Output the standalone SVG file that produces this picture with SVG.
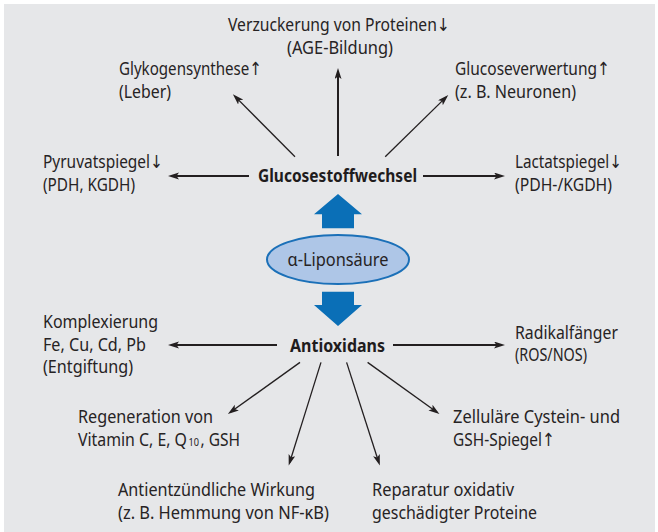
<svg xmlns="http://www.w3.org/2000/svg" width="658" height="532" viewBox="0 0 658 532">
<style>
.t{font-family:"Noto Sans","DejaVu Sans",sans-serif;font-size:18px;fill:#262324}
.b{font-family:"Noto Sans","DejaVu Sans",sans-serif;font-size:18px;font-weight:bold;fill:#1f1c1d}
.s{font-family:"Noto Sans","DejaVu Sans",sans-serif;font-size:11px;fill:#262324}
.thick{stroke:#231f20;stroke-width:2;fill:none;marker-end:url(#ah)}
.thin{stroke:#231f20;stroke-width:1.3;fill:none;marker-end:url(#ah)}
.blue{fill:#0a6fb7}
</style>
<defs>
<marker id="ah" markerUnits="userSpaceOnUse" markerWidth="12" markerHeight="8" refX="8" refY="3.5" orient="auto">
<path d="M0,0 L11,3.5 L0,7 L2.5,3.5 z" fill="#231f20"/>
</marker>
</defs>
<rect x="4" y="4" width="651" height="530" fill="#e6e7e9"/>

<g id="connectors">
<line class="thick" x1="338" y1="156" x2="338" y2="71"/>
<line class="thin" x1="295" y1="156.8" x2="235" y2="96.4"/>
<line class="thin" x1="385.2" y1="156.8" x2="446.1" y2="97.1"/>
<line class="thick" x1="249" y1="176" x2="171" y2="176"/>
<line class="thick" x1="423" y1="176" x2="502" y2="176"/>
<line class="thick" x1="277" y1="345" x2="171" y2="345"/>
<line class="thick" x1="393" y1="345" x2="502" y2="345"/>
<line class="thin" x1="300" y1="362.4" x2="230.3" y2="412.3"/>
<line class="thin" x1="321" y1="362.4" x2="289.6" y2="462.7"/>
<line class="thin" x1="346.6" y1="362.4" x2="378.9" y2="462.7"/>
<line class="thin" x1="367.6" y1="362.4" x2="437" y2="412.3"/>
<polygon class="blue" points="338,194 362,214.3 354,214.3 354,228.3 322,228.3 322,214.3 314,214.3"/>
<polygon class="blue" points="322,291.7 354,291.7 354,305 362,305 338,326 314,305 322,305"/>
</g>

<g id="liponsaeure">
<ellipse cx="338" cy="259.5" rx="71" ry="24.5" fill="#aec6e7" stroke="#1b70b8" stroke-width="2"/>
<text class="t" x="287.5" y="266" textLength="101" lengthAdjust="spacingAndGlyphs">α-Liponsäure</text>
</g>

<g id="glucosestoffwechsel">
<text class="b" x="258" y="182" textLength="159" lengthAdjust="spacingAndGlyphs">Glucosestoffwechsel</text>
</g>

<g id="antioxidans">
<text class="b" x="290" y="352" textLength="95" lengthAdjust="spacingAndGlyphs">Antioxidans</text>
</g>

<g id="verzuckerung">
<text class="t" x="228" y="31" textLength="222" lengthAdjust="spacingAndGlyphs">Verzuckerung von Proteinen↓</text>
<text class="t" x="287" y="53.5" textLength="106" lengthAdjust="spacingAndGlyphs">(AGE-Bildung)</text>
</g>

<g id="glykogen">
<text class="t" x="119" y="75" textLength="143" lengthAdjust="spacingAndGlyphs">Glykogensynthese↑</text>
<text class="t" x="119" y="97.5" textLength="52" lengthAdjust="spacingAndGlyphs">(Leber)</text>
</g>

<g id="glucoseverwertung">
<text class="t" x="455" y="75" textLength="155" lengthAdjust="spacingAndGlyphs">Glucoseverwertung↑</text>
<text class="t" x="455" y="97.5" textLength="121" lengthAdjust="spacingAndGlyphs">(z. B. Neuronen)</text>
</g>

<g id="pyruvat">
<text class="t" x="43" y="168" textLength="120" lengthAdjust="spacingAndGlyphs">Pyruvatspiegel↓</text>
<text class="t" x="43" y="190.5" textLength="92" lengthAdjust="spacingAndGlyphs">(PDH, KGDH)</text>
</g>

<g id="lactat">
<text class="t" x="515" y="168" textLength="107" lengthAdjust="spacingAndGlyphs">Lactatspiegel↓</text>
<text class="t" x="515" y="190.5" textLength="97" lengthAdjust="spacingAndGlyphs">(PDH-/KGDH)</text>
</g>

<g id="komplexierung">
<text class="t" x="43" y="328" textLength="115" lengthAdjust="spacingAndGlyphs">Komplexierung</text>
<text class="t" x="43" y="350.5" textLength="103" lengthAdjust="spacingAndGlyphs">Fe, Cu, Cd, Pb</text>
<text class="t" x="43" y="373" textLength="90" lengthAdjust="spacingAndGlyphs">(Entgiftung)</text>
</g>

<g id="radikalfaenger">
<text class="t" x="515" y="338.5" textLength="103" lengthAdjust="spacingAndGlyphs">Radikalfänger</text>
<text class="t" x="515" y="361" textLength="72" lengthAdjust="spacingAndGlyphs">(ROS/NOS)</text>
</g>

<g id="regeneration">
<text class="t" x="78" y="423" textLength="135" lengthAdjust="spacingAndGlyphs">Regeneration von</text>
<text class="t" x="78" y="445.5" textLength="109" lengthAdjust="spacingAndGlyphs">Vitamin C, E, Q</text>
<text class="s" x="188.5" y="446" textLength="10.5" lengthAdjust="spacingAndGlyphs">10</text>
<text class="t" x="200.5" y="445.5" textLength="39.5" lengthAdjust="spacingAndGlyphs">, GSH</text>
</g>

<g id="zellulaer">
<text class="t" x="453" y="423" textLength="167" lengthAdjust="spacingAndGlyphs">Zelluläre Cystein- und</text>
<text class="t" x="453" y="445.5" textLength="102" lengthAdjust="spacingAndGlyphs">GSH-Spiegel↑</text>
</g>

<g id="antientzuendlich">
<text class="t" x="118" y="495.5" textLength="197" lengthAdjust="spacingAndGlyphs">Antientzündliche Wirkung</text>
<text class="t" x="118" y="518.5" textLength="211" lengthAdjust="spacingAndGlyphs">(z. B. Hemmung von NF-κB)</text>
</g>

<g id="reparatur">
<text class="t" x="372" y="495.5" textLength="142" lengthAdjust="spacingAndGlyphs">Reparatur oxidativ</text>
<text class="t" x="372" y="518.5" textLength="165" lengthAdjust="spacingAndGlyphs">geschädigter Proteine</text>
</g>
</svg>
